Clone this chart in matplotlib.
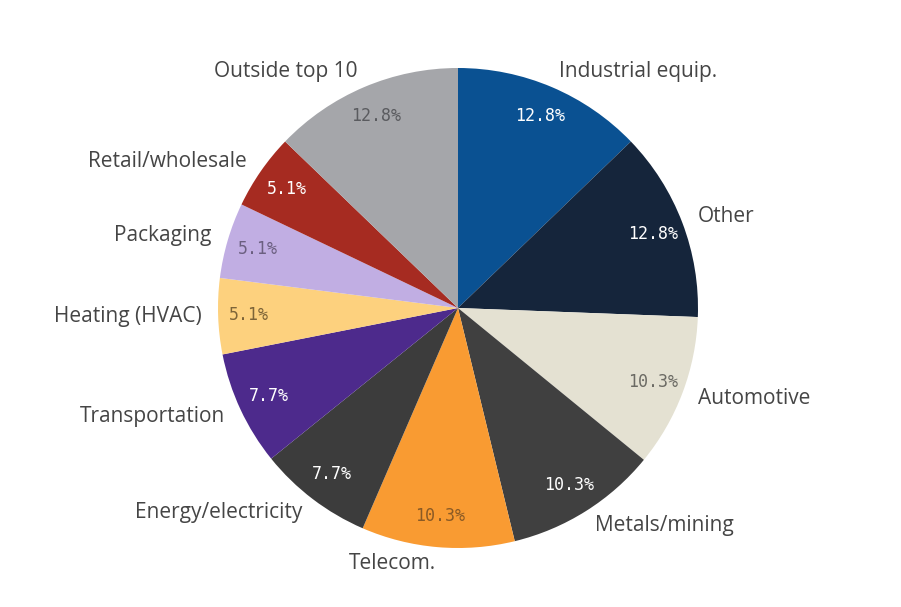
import matplotlib.pyplot as plt

# Sector shares (percent), clockwise from 12 o'clock
sectores = ['Industrial equip.', 'Other', 'Automotive', 'Metals/mining', 'Telecom.',
            'Energy/electricity', 'Transportation', 'Heating (HVAC)', 'Packaging',
            'Retail/wholesale', 'Outside top 10']
valores = [12.8, 12.8, 10.3, 10.3, 10.3, 7.7, 7.7, 5.1, 5.1, 5.1, 12.8]

colores = ['#0a5192', '#15253b', '#e4e1d2', '#404040', '#f99b32', '#3c3c3c',
           '#4d2a8c', '#fdd17e', '#c1aee3', '#a62b21', '#a5a6aa']
# color del porcentaje dentro de cada sector
colores_pct = ['white', 'white', '#6b6a64', 'white', '#8a5a25', 'white',
               'white', '#7d6438', '#6b5f80', 'white', '#5a5b5f']

fig = plt.figure(figsize=(9.01, 6.07), dpi=100)
ax = fig.add_axes([0, 0, 1, 1])

wedges, textos, pcts = ax.pie(valores, labels=sectores, colors=colores,
                              autopct='%.1f%%', startangle=90, counterclock=False,
                              labeldistance=1.07, pctdistance=0.87,
                              wedgeprops=dict(linewidth=0),
                              textprops=dict(fontsize=15, color='#454545',
                                             family=['Open Sans', 'DejaVu Sans']))

for t, c in zip(pcts, colores_pct):
    t.set_color(c)
    t.set_family('DejaVu Sans Mono')
    t.set_fontsize(12)

# centro del pastel en (458, 308) px con radio de 240 px
ax.set_xlim(-458 / 240, (901 - 458) / 240)
ax.set_ylim(-(607 - 308) / 240, 308 / 240)
ax.set_aspect('auto')
ax.axis('off')

fig.savefig('out.png', dpi=100, facecolor='white')
